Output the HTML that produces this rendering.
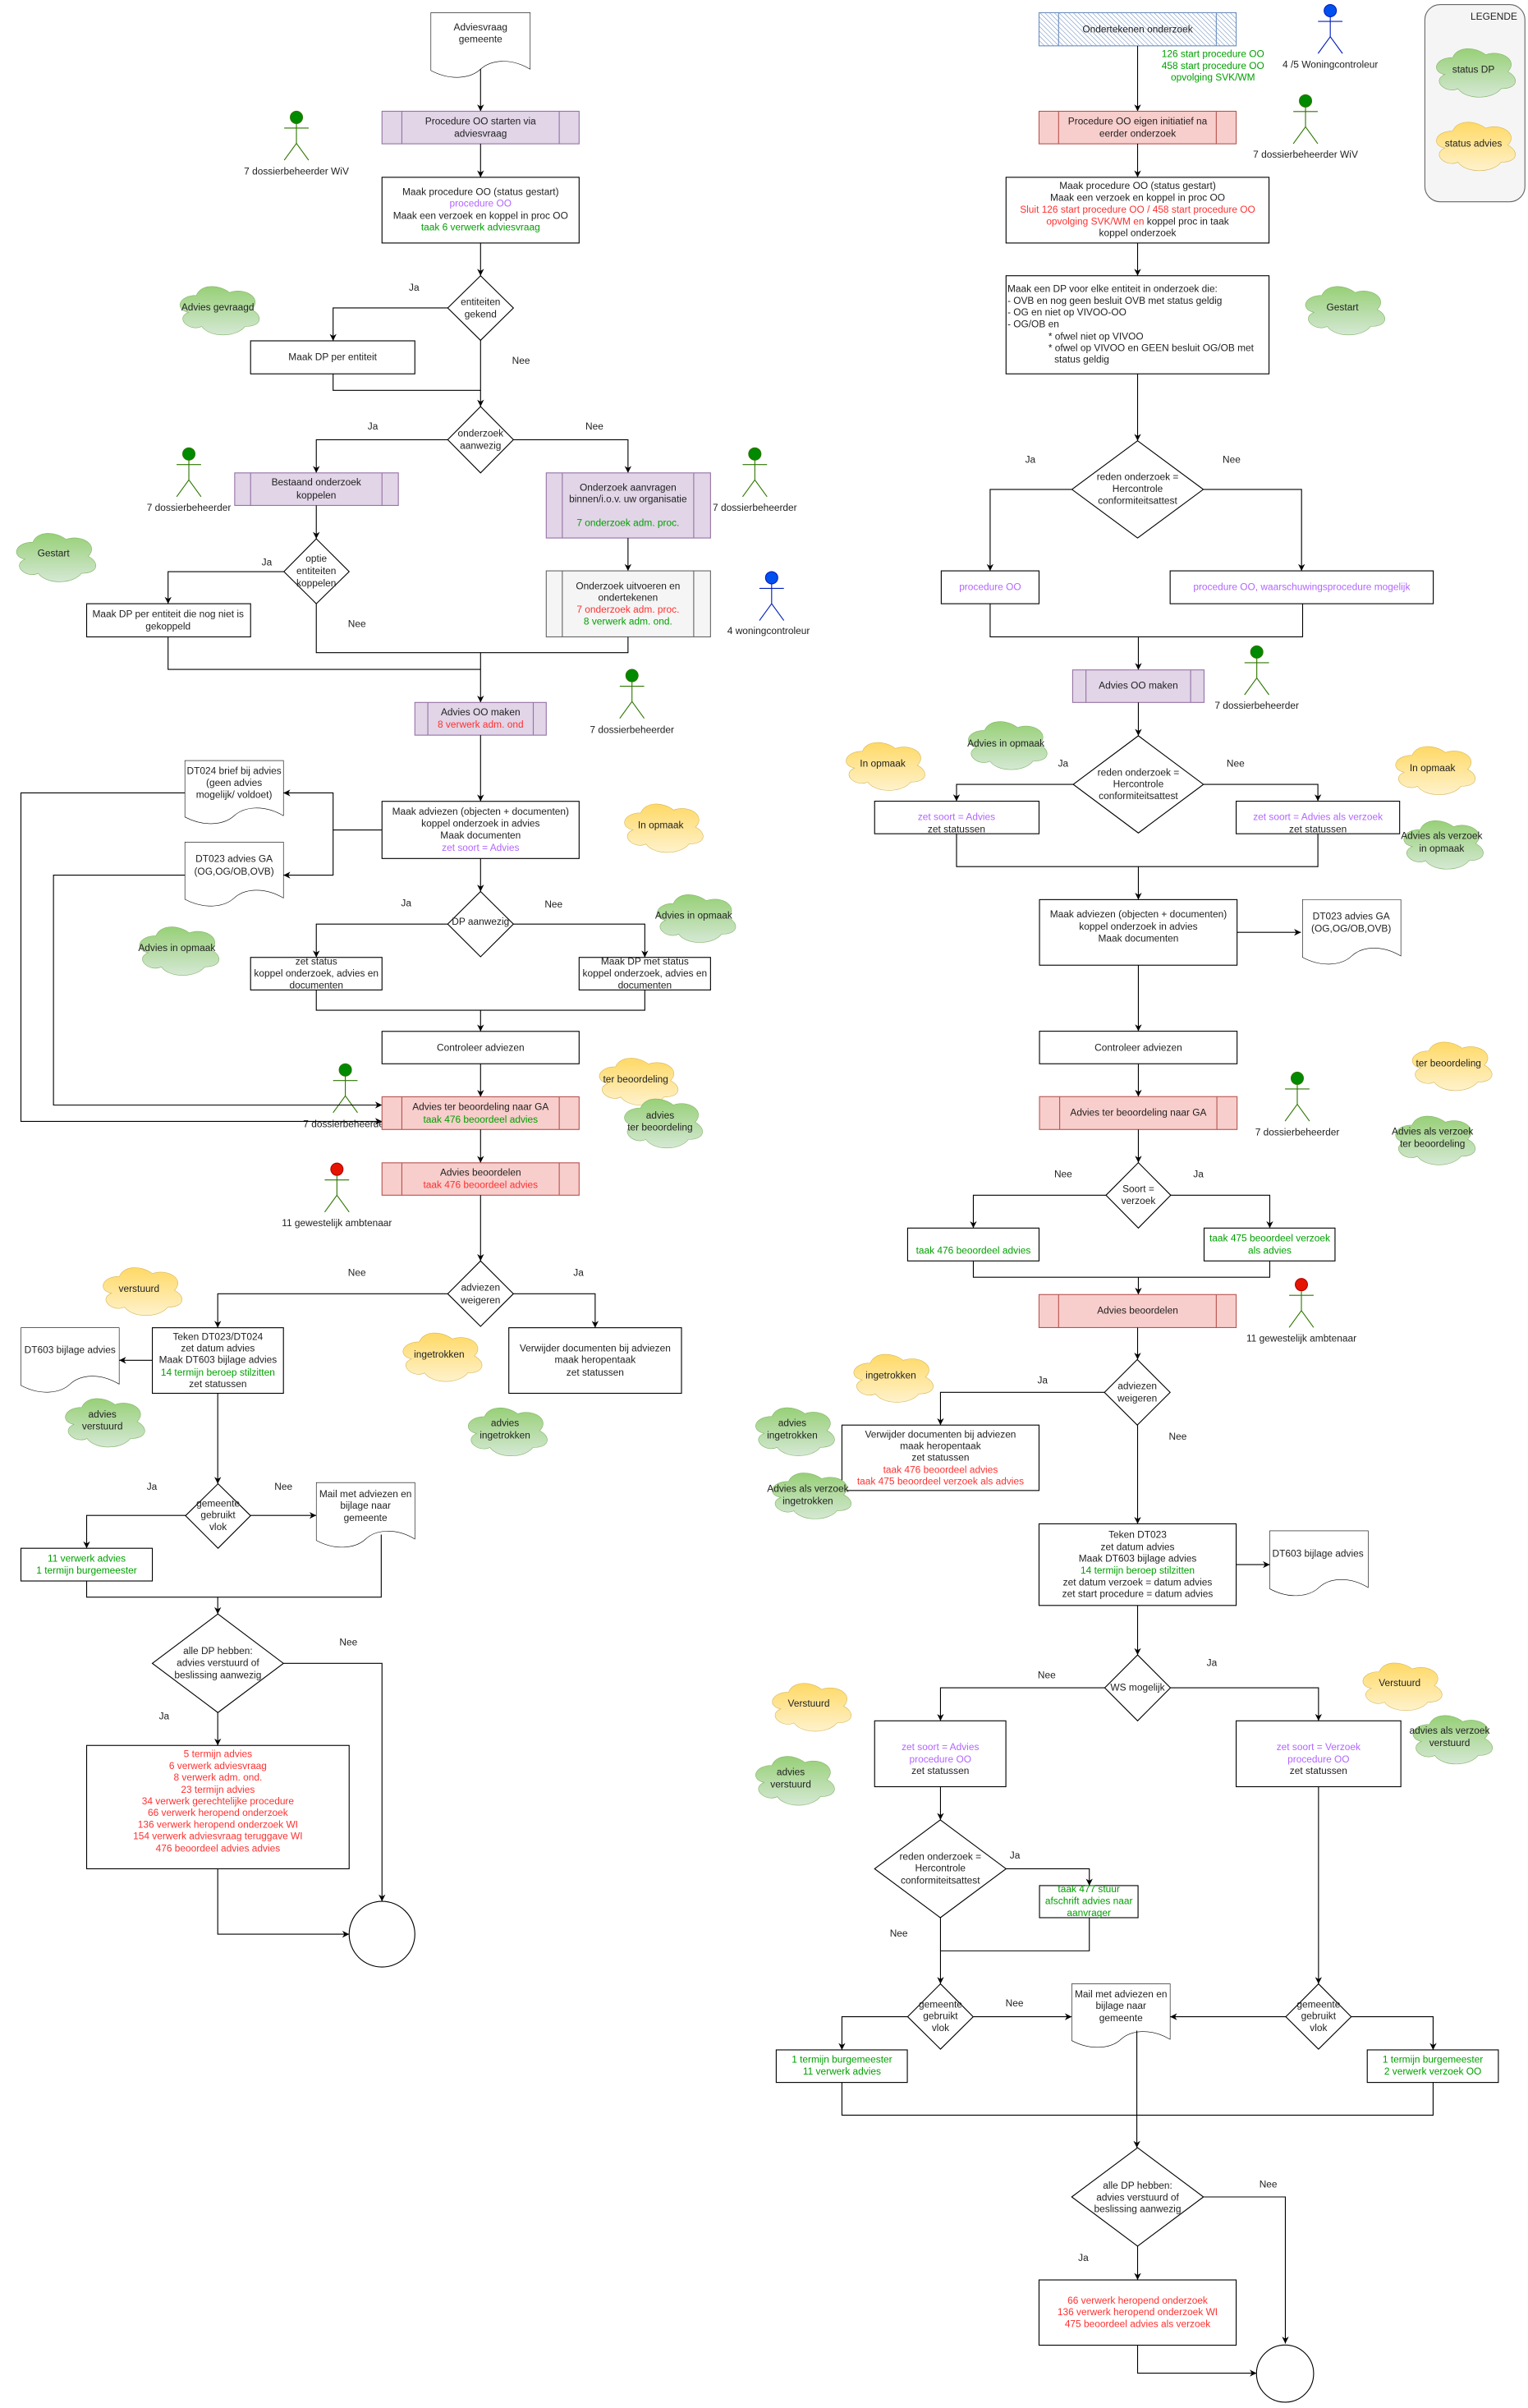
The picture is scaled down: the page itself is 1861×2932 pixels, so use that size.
<!DOCTYPE html>
<html><head><meta charset="utf-8"><style>
html,body{margin:0;padding:0;background:#fff}
svg{display:block}
.t{font-family:"Liberation Sans",Arial,sans-serif;font-size:6.4px;text-anchor:middle;dominant-baseline:central;fill:#222}
.l{text-anchor:start}
.g{fill:#00a000}.r{fill:#ff3030}.p{fill:#b266ff}
.b{fill:#fff;stroke:#000;stroke-width:0.6}
.pu{fill:#e1d5e7;stroke:#9673a6;stroke-width:0.6}
.rd{fill:#f8cecc;stroke:#b85450;stroke-width:0.6}
.c{fill:none;stroke:#000;stroke-width:0.6}
.a{fill:none;stroke:#000;stroke-width:0.6;marker-end:url(#ar)}
</style></head><body>
<svg width="1861" height="2932" viewBox="0 0 1000 1575.5" xmlns="http://www.w3.org/2000/svg">
<defs>
<marker id="ar" viewBox="0 0 10 10" refX="10" refY="5" markerWidth="4.5" markerHeight="4.5" markerUnits="userSpaceOnUse" orient="auto"><path d="M0,0 L10,5 L0,10 L3,5 Z" fill="#000"/></marker>
<linearGradient id="gg" x1="0" y1="0" x2="0" y2="1"><stop offset="0" stop-color="#97d077"/><stop offset="1" stop-color="#d5e8d4"/></linearGradient>
<linearGradient id="gy" x1="0" y1="0" x2="0" y2="1"><stop offset="0" stop-color="#ffd966"/><stop offset="1" stop-color="#fff2cc"/></linearGradient>
<pattern id="hat" width="2.2" height="2.2" patternUnits="userSpaceOnUse" patternTransform="rotate(-45)"><rect width="2.2" height="2.2" fill="#fff"/><line x1="0" y1="0" x2="0" y2="2.2" stroke="#6c8ebf" stroke-width="0.6"/></pattern>
<path id="cl" vector-effect="non-scaling-stroke" stroke-width="0.6" d="M0.25,0.25 C0.05,0.25 0,0.5 0.16,0.55 C0,0.66 0.18,0.9 0.31,0.8 C0.4,1 0.7,1 0.8,0.8 C1,0.8 1,0.6 0.875,0.5 C1,0.3 0.8,0.1 0.625,0.2 C0.5,0.05 0.3,0.05 0.25,0.25 Z"/>
<path id="doc" vector-effect="non-scaling-stroke" stroke-width="0.6" fill="#fff" stroke="#000" d="M0,0 H1 V0.86 C0.8,0.68 0.6,0.72 0.5,0.86 C0.4,1 0.2,1.04 0,0.88 Z"/>
<g id="actG" stroke="#2d7600" stroke-width="0.6" fill="none"><circle cx="0" cy="0" r="4" fill="#008a00"/><path d="M0,4 V17 M-8,7 H8 M0,17 L-8,28 M0,17 L8,28"/></g>
<g id="actB" stroke="#001dbc" stroke-width="0.6" fill="none"><circle cx="0" cy="0" r="4" fill="#0050ef"/><path d="M0,4 V17 M-8,7 H8 M0,17 L-8,28 M0,17 L8,28"/></g>
<g id="actR" stroke="#2d7600" stroke-width="0.6" fill="none"><circle cx="0" cy="0" r="4" fill="#e51400" stroke="#b20000"/><path d="M0,4 V17 M-8,7 H8 M0,17 L-8,28 M0,17 L8,28"/></g>
</defs>

<!-- ================= LEFT ================= -->
<use href="#doc" transform="translate(282,8.3) scale(65,43)"/>
<text class="t" x="314.5" y="17.6">Adviesvraag</text><text class="t" x="314.5" y="25.6">gemeente</text>
<path class="a" d="M314.5,45 V72.8"/>
<rect class="pu" x="250" y="72.8" width="129" height="21.3"/><path class="c" style="stroke:#9673a6" d="M263,72.8 V94.1 M366,72.8 V94.1"/>
<text class="t" x="314.5" y="79.3">Procedure OO starten via</text><text class="t" x="314.5" y="87.3">adviesvraag</text>
<use href="#actG" x="194" y="76.8"/><text class="t" x="194" y="112">7 dossierbeheerder WiV</text>
<path class="a" d="M314.5,94.1 V116"/>
<rect class="b" x="250" y="116" width="129" height="43"/>
<text class="t" x="314.5" y="125.5">Maak procedure OO (status gestart)</text>
<text class="t p" x="314.5" y="133">procedure OO</text>
<text class="t" x="314.5" y="141">Maak een verzoek en koppel in proc OO</text>
<text class="t g" x="314.5" y="148.7">taak 6 verwerk adviesvraag</text>
<path class="a" d="M314.5,159 V180.4"/>
<polygon class="b" points="293,201.5 314.5,180.4 336,201.5 314.5,222.7"/>
<text class="t" x="314.5" y="197.5">entiteiten</text><text class="t" x="314.5" y="205.5">gekend</text>
<text class="t" x="271" y="188">Ja</text>
<use href="#cl" transform="translate(114,184) scale(58,37)" fill="url(#gg)" stroke="#82b366"/>
<text class="t" x="142.5" y="201">Advies gevraagd</text>
<path class="a" d="M293,201.5 H218 V223"/>
<rect class="b" x="164" y="223" width="107.5" height="21.6"/><text class="t" x="217.7" y="233.6">Maak DP per entiteit</text>
<text class="t" x="341" y="236">Nee</text>
<path class="c" d="M218,244.6 V255.4 H314.5"/>
<path class="a" d="M314.5,222.7 V266"/>
<polygon class="b" points="293,287.7 314.5,266 336,287.7 314.5,309.4"/>
<text class="t" x="314.5" y="283.5">onderzoek</text><text class="t" x="314.5" y="291.5">aanwezig</text>
<text class="t" x="244" y="279">Ja</text><text class="t" x="389" y="279">Nee</text>
<path class="a" d="M293,287.7 H207 V309.4"/><path class="a" d="M336,287.7 H411 V309.4"/>
<rect class="pu" x="153.6" y="309.4" width="107.1" height="21.3"/><path class="c" style="stroke:#9673a6" d="M164,309.4 V330.7 M250,309.4 V330.7"/>
<text class="t" x="207" y="315.5">Bestaand onderzoek</text><text class="t" x="207" y="324">koppelen</text>
<use href="#actG" x="123.6" y="297"/><text class="t" x="123.6" y="332">7 dossierbeheerder</text>
<rect class="pu" x="357.5" y="309.4" width="107.5" height="42.6"/><path class="c" style="stroke:#9673a6" d="M368,309.4 V352 M454,309.4 V352"/>
<text class="t" x="411" y="319">Onderzoek aanvragen</text><text class="t" x="411" y="326.5">binnen/i.o.v. uw organisatie</text>
<text class="t g" x="411" y="342">7 onderzoek adm. proc.</text>
<use href="#actG" x="494" y="297"/><text class="t" x="494" y="332">7 dossierbeheerder</text>
<path class="a" d="M207,330.7 V352.5"/>
<polygon class="b" points="185.8,374 207,352.5 228.5,374 207,395"/>
<text class="t" x="207" y="365.5">optie</text><text class="t" x="207" y="373.5">entiteiten</text><text class="t" x="207" y="381.5">koppelen</text>
<use href="#cl" transform="translate(7,345.5) scale(58,37)" fill="url(#gg)" stroke="#82b366"/>
<text class="t" x="35" y="362">Gestart</text>
<text class="t" x="174.6" y="367.7">Ja</text>
<path class="a" d="M185.8,374 H110 V395"/>
<rect class="b" x="56.7" y="395" width="107.3" height="21.7"/>
<text class="t" x="110" y="401.6">Maak DP per entiteit die nog niet is</text><text class="t" x="110" y="409.6">gekoppeld</text>
<text class="t" x="233.6" y="408">Nee</text>
<path class="a" d="M411,352 V373.5"/>
<rect x="357.5" y="373.5" width="107.5" height="43.2" fill="#f5f5f5" stroke="#666" stroke-width="0.6"/><path class="c" style="stroke:#666" d="M368,373.5 V416.7 M454,373.5 V416.7"/>
<text class="t" x="411" y="383.4">Onderzoek uitvoeren en</text><text class="t" x="411" y="390.8">ondertekenen</text>
<text class="t r" x="411" y="398.8">7 onderzoek adm. proc.</text><text class="t g" x="411" y="406.5">8 verwerk adm. ond.</text>
<use href="#actB" x="505" y="378"/><text class="t" x="503" y="412.7">4 woningcontroleur</text>
<path class="c" d="M207,395 V427 H411 V416.7"/>
<path class="c" d="M110,416.7 V438 H314.5"/>
<path class="a" d="M314.5,427 V459.6"/>
<rect class="pu" x="271.5" y="459.6" width="86" height="21.4"/><path class="c" style="stroke:#9673a6" d="M280,459.6 V481 M349,459.6 V481"/>
<text class="t" x="314.5" y="466">Advies OO maken</text><text class="t r" x="314.5" y="474">8 verwerk adm. ond</text>
<use href="#actG" x="413.6" y="442"/><text class="t" x="413.6" y="477.5">7 dossierbeheerder</text>
<path class="a" d="M314.5,481 V524.3"/>
<rect class="b" x="250" y="524.3" width="129" height="37.4"/>
<text class="t" x="314.5" y="531">Maak adviezen (objecten + documenten)</text>
<text class="t" x="314.5" y="538.7">koppel onderzoek in advies</text>
<text class="t" x="314.5" y="546.6">Maak documenten</text>
<text class="t p" x="314.5" y="554.5">zet soort = Advies</text>
<use href="#doc" transform="translate(121,497.6) scale(64.5,42)"/>
<text class="t" x="153.2" y="504.4">DT024 brief bij advies</text><text class="t" x="153.2" y="512">(geen advies</text><text class="t" x="153.2" y="520">mogelijk/ voldoet)</text>
<use href="#doc" transform="translate(121,551) scale(64.5,42.5)"/>
<text class="t" x="153.2" y="561.7">DT023  advies GA</text><text class="t" x="153.2" y="570">(OG,OG/OB,OVB)</text>
<path class="a" d="M250,543 H218 V518.8 H185.5"/><path class="a" d="M218,543 V572.6 H185.5"/>
<use href="#cl" transform="translate(405,522.6) scale(57.4,37)" fill="url(#gy)" stroke="#d6b656"/>
<text class="t" x="432.4" y="539.7">In opmaak</text>
<path class="a" d="M314.5,561.7 V583.3"/>
<polygon class="b" points="293,604.6 314.5,583.3 336,604.6 314.5,626"/>
<text class="t" x="314.5" y="603">DP aanwezig</text>
<text class="t" x="265.8" y="590.8">Ja</text><text class="t" x="362.3" y="591.5">Nee</text>
<use href="#cl" transform="translate(426.4,582) scale(57.3,36.5)" fill="url(#gg)" stroke="#82b366"/>
<text class="t" x="454" y="599">Advies in opmaak</text>
<use href="#cl" transform="translate(87.6,603) scale(58,37)" fill="url(#gg)" stroke="#82b366"/>
<text class="t" x="115.7" y="620">Advies in opmaak</text>
<path class="a" d="M293,604.6 H207 V626.4"/><path class="a" d="M336,604.6 H422 V626.4"/>
<rect class="b" x="164" y="626.4" width="86" height="21.3"/>
<text class="t" x="207" y="629">zet status</text><text class="t" x="207" y="636.7">koppel onderzoek, advies en</text><text class="t" x="207" y="644.6">documenten</text>
<rect class="b" x="379" y="626.4" width="86" height="21.3"/>
<text class="t" x="422" y="629">Maak DP met  status</text><text class="t" x="422" y="636.7">koppel onderzoek, advies en</text><text class="t" x="422" y="644.6">documenten</text>
<path class="c" d="M207,647.7 V661 H422 V647.7"/>
<path class="a" d="M314.5,661 V674.8"/>
<rect class="b" x="250" y="674.8" width="129" height="21.2"/><text class="t" x="314.5" y="685.4">Controleer adviezen</text>
<path class="a" d="M314.5,696 V717.6"/>
<use href="#actG" x="226" y="700"/><text class="t" x="226" y="735.4">7 dossierbeheerder</text>
<path class="a" d="M121,518.8 H13.7 V733.7 H250"/><path class="a" d="M121,572.6 H35 V723 H250"/>
<rect class="rd" x="250" y="717.6" width="129" height="21.4"/><path class="c" style="stroke:#b85450" d="M263,717.6 V739 M366,717.6 V739"/>
<text class="t" x="314.5" y="724">Advies ter beoordeling naar GA</text><text class="t g" x="314.5" y="732.3">taak 476 beoordeel advies</text>
<use href="#cl" transform="translate(388.5,689) scale(57.5,36)" fill="url(#gy)" stroke="#d6b656"/>
<text class="t" x="416" y="706">ter beoordeling</text>
<use href="#cl" transform="translate(405,715.5) scale(57,37.5)" fill="url(#gg)" stroke="#82b366"/>
<text class="t" x="432" y="729.6">advies</text><text class="t" x="432" y="737.5">ter beoordeling</text>
<path class="a" d="M314.5,739 V760.8"/>
<rect class="rd" x="250" y="760.8" width="129" height="21.2"/><path class="c" style="stroke:#b85450" d="M263,760.8 V782 M366,760.8 V782"/>
<text class="t" x="314.5" y="767">Advies beoordelen</text><text class="t r" x="314.5" y="775">taak 476 beoordeel advies</text>
<use href="#actR" x="220.5" y="765"/><text class="t" x="220.5" y="800">11 gewestelijk ambtenaar</text>
<path class="a" d="M314.5,782 V825"/>
<polygon class="b" points="293,846.5 314.5,825 336,846.5 314.5,867.8"/>
<text class="t" x="314.5" y="842.3">adviezen</text><text class="t" x="314.5" y="850.6">weigeren</text>
<text class="t" x="233.6" y="832.7">Nee</text><text class="t" x="378.6" y="832.7">Ja</text>
<path class="a" d="M293,846.5 H142.5 V868.7"/><path class="a" d="M336,846.5 H389.5 V868.7"/>
<use href="#cl" transform="translate(63.7,826) scale(57.7,36.5)" fill="url(#gy)" stroke="#d6b656"/>
<text class="t" x="91" y="843">verstuurd</text>
<rect class="b" x="99.7" y="868.7" width="85.8" height="42.9"/>
<text class="t" x="142.6" y="874.5">Teken DT023/DT024</text><text class="t" x="142.6" y="882">zet datum advies</text>
<text class="t" x="142.6" y="889.6">Maak DT603 bijlage advies</text><text class="t g" x="142.6" y="897.8">14 termijn beroep stilzitten</text>
<text class="t" x="142.6" y="905.4">zet statussen</text>
<use href="#doc" transform="translate(13.7,868.7) scale(64.3,42.9)"/>
<text class="t" x="45.8" y="883">DT603 bijlage advies</text>
<path class="a" d="M99.7,890 H78"/>
<use href="#cl" transform="translate(39,911.6) scale(58,37)" fill="url(#gg)" stroke="#82b366"/>
<text class="t" x="67" y="925.3">advies</text><text class="t" x="67" y="933">verstuurd</text>
<use href="#cl" transform="translate(260,868.7) scale(57.7,37)" fill="url(#gy)" stroke="#d6b656"/>
<text class="t" x="287.4" y="886">ingetrokken</text>
<rect class="b" x="333" y="868.7" width="113" height="42.9"/>
<text class="t" x="389.5" y="882">Verwijder documenten bij adviezen</text><text class="t" x="389.5" y="889.6">maak heropentaak</text><text class="t" x="389.5" y="897.8">zet statussen</text>
<use href="#cl" transform="translate(302.7,917.7) scale(57.7,36.7)" fill="url(#gg)" stroke="#82b366"/>
<text class="t" x="330.5" y="931">advies</text><text class="t" x="330.5" y="939">ingetrokken</text>
<path class="a" d="M142.5,911.6 V970.8"/>
<polygon class="b" points="121.4,991.7 142.7,970.8 164,991.7 142.7,1013"/>
<text class="t" x="142.7" y="983.5">gemeente</text><text class="t" x="142.7" y="991.2">gebruikt</text><text class="t" x="142.7" y="999">vlok</text>
<text class="t" x="99.4" y="972.6">Ja</text><text class="t" x="185.5" y="972.6">Nee</text>
<path class="a" d="M121.4,991.5 H56.7 V1013"/><path class="a" d="M164,991.5 H207"/>
<use href="#doc" transform="translate(207,970) scale(64.5,43)"/>
<text class="t" x="239.2" y="977.4">Mail met adviezen en</text><text class="t" x="239.2" y="985">bijlage naar</text><text class="t" x="239.2" y="993">gemeente</text>
<rect class="b" x="13.7" y="1013" width="86" height="21.4"/>
<text class="t g" x="56.7" y="1019.5">11 verwerk advies</text><text class="t g" x="56.7" y="1027.5">1 termijn burgemeester</text>
<path class="c" d="M56.7,1034.4 V1045 H249.5 V1004"/>
<path class="a" d="M142.5,1045 V1056"/>
<polygon class="b" points="99.7,1088.3 142.6,1056 185.5,1088.3 142.6,1120.5"/>
<text class="t" x="142.6" y="1080">alle DP hebben:</text><text class="t" x="142.6" y="1087.8">advies verstuurd of</text><text class="t" x="142.6" y="1095.8">beslissing aanwezig</text>
<text class="t" x="228" y="1074.4">Nee</text>
<path class="a" d="M185.5,1088.3 H250 V1244"/>
<text class="t" x="107.4" y="1122.8">Ja</text>
<path class="a" d="M142.5,1120.5 V1142"/>
<rect class="b" x="56.7" y="1142" width="171.8" height="80.7"/>
<text class="t r" x="142.6" y="1147.6">5 termijn advies</text>
<text class="t r" x="142.6" y="1155.2">6 verwerk adviesvraag</text>
<text class="t r" x="142.6" y="1162.8">8 verwerk adm. ond.</text>
<text class="t r" x="142.6" y="1170.8">23 termijn advies</text>
<text class="t r" x="142.6" y="1178.5">34 verwerk gerechtelijke procedure</text>
<text class="t r" x="142.6" y="1186">66 verwerk heropend onderzoek</text>
<text class="t r" x="142.6" y="1193.7">136 verwerk heropend onderzoek WI</text>
<text class="t r" x="142.6" y="1201.3">154 verwerk adviesvraag teruggave WI</text>
<text class="t r" x="142.6" y="1209.3">476 beoordeel advies advies</text>
<circle class="b" cx="250" cy="1265.5" r="21.5"/>
<path class="a" d="M142.5,1222.7 V1265.5 H228.5"/>

<!-- ================= RIGHT ================= -->
<rect x="680" y="8.3" width="129" height="21.7" fill="url(#hat)" stroke="#6c8ebf" stroke-width="0.6"/><path class="c" style="stroke:#6c8ebf" d="M692.8,8.3 V30 M796,8.3 V30"/>
<text class="t" x="744.5" y="19">Ondertekenen onderzoek</text>
<path class="a" d="M744.5,30 V72.8"/>
<text class="t g" x="793.8" y="35.2">126 start procedure OO</text><text class="t g" x="793.8" y="42.9">458 start procedure OO</text><text class="t g" x="793.8" y="50.6">opvolging SVK/WM</text>
<use href="#actB" x="870.6" y="7"/><text class="t" x="870.6" y="42.3">4 /5 Woningcontroleur</text>
<use href="#actG" x="854.4" y="66"/><text class="t" x="854.4" y="101">7 dossierbeheerder WiV</text>
<rect x="932.5" y="3" width="65.5" height="129" rx="10" fill="#f5f5f5" stroke="#666" stroke-width="0.6"/>
<text class="t" x="977.7" y="10.8">LEGENDE</text>
<use href="#cl" transform="translate(936.3,28.4) scale(57.7,37)" fill="url(#gg)" stroke="#82b366"/>
<text class="t" x="964.3" y="45.3">status DP</text>
<use href="#cl" transform="translate(936.3,76.5) scale(57.7,37)" fill="url(#gy)" stroke="#d6b656"/>
<text class="t" x="964.3" y="93.8">status advies</text>
<rect class="rd" x="680" y="72.8" width="129" height="21.3"/><path class="c" style="stroke:#b85450" d="M692.8,72.8 V94.1 M796,72.8 V94.1"/>
<text class="t" x="744.5" y="79.3">Procedure OO eigen initiatief na</text><text class="t" x="744.5" y="87.3">eerder onderzoek</text>
<path class="a" d="M744.5,94.1 V116"/>
<rect class="b" x="658.4" y="116" width="172.1" height="43"/>
<text class="t" x="744.5" y="121.5">Maak procedure OO (status gestart)</text>
<text class="t" x="744.5" y="129.2">Maak een verzoek en koppel in proc OO</text>
<text class="t r" x="744.5" y="137">Sluit 126 start procedure OO / 458 start procedure OO</text>
<text class="t" x="744.5" y="144.7"><tspan class="r">opvolging SVK/WM  en</tspan> koppel proc in taak</text>
<text class="t" x="744.5" y="152.4">koppel onderzoek</text>
<path class="a" d="M744.5,159 V180.4"/>
<rect class="b" x="658.4" y="180.4" width="172.1" height="64.2"/>
<text class="t l" x="659.3" y="188.8">Maak een DP voor elke entiteit in onderzoek die:</text>
<text class="t l" x="659.3" y="196.8">- OVB en nog geen besluit OVB met status geldig</text>
<text class="t l" x="659.3" y="204.2">- OG en niet op VIVOO-OO</text>
<text class="t l" x="659.3" y="212">- OG/OB en</text>
<text class="t l" x="686.1" y="220">* ofwel niet op VIVOO</text>
<text class="t l" x="686.1" y="227.6">* ofwel op VIVOO en GEEN besluit OG/OB met</text>
<text class="t l" x="690" y="235">status geldig</text>
<use href="#cl" transform="translate(850.6,184) scale(58,37)" fill="url(#gg)" stroke="#82b366"/>
<text class="t" x="878.6" y="201">Gestart</text>
<path class="a" d="M744.5,244.6 V288.4"/>
<polygon class="b" points="701.5,320.2 744.5,288.4 787.5,320.2 744.5,352"/>
<text class="t" x="744.5" y="311.8">reden onderzoek =</text><text class="t" x="744.5" y="319.6">Hercontrole</text><text class="t" x="744.5" y="327.6">conformiteitsattest</text>
<text class="t" x="674.3" y="300.7">Ja</text><text class="t" x="806" y="300.7">Nee</text>
<path class="a" d="M701.5,320.2 H648 V373.5"/><path class="a" d="M787.5,320.2 H851.8 V373.5"/>
<rect class="b" x="616" y="373.5" width="64" height="21.5"/><text class="t p" x="648" y="384">procedure OO</text>
<rect class="b" x="765.8" y="373.5" width="172.2" height="21.5"/><text class="t p" x="851.9" y="384">procedure OO, waarschuwingsprocedure mogelijk</text>
<path class="c" d="M648,395 V416.7 H852.5 V395"/>
<path class="a" d="M745,416.7 V438.3"/>
<rect class="pu" x="702" y="438.3" width="86" height="21.3"/><path class="c" style="stroke:#9673a6" d="M710.7,438.3 V459.6 M779.2,438.3 V459.6"/>
<text class="t" x="745" y="448.5">Advies OO maken</text>
<use href="#actG" x="822.5" y="426.6"/><text class="t" x="822.5" y="461.5">7 dossierbeheerder</text>
<path class="a" d="M745,459.6 V481.4"/>
<polygon class="b" points="702.4,513.2 745,481.4 787.6,513.2 745,545"/>
<text class="t" x="745" y="505.4">reden onderzoek =</text><text class="t" x="745" y="513">Hercontrole</text><text class="t" x="745" y="520.8">conformiteitsattest</text>
<text class="t" x="695.8" y="499.5">Ja</text><text class="t" x="808.6" y="499.5">Nee</text>
<use href="#cl" transform="translate(550,482.4) scale(57.6,36.6)" fill="url(#gy)" stroke="#d6b656"/>
<text class="t" x="577.7" y="499.5">In opmaak</text>
<use href="#cl" transform="translate(630,468.7) scale(57.5,36.7)" fill="url(#gg)" stroke="#82b366"/>
<text class="t" x="658.3" y="486.2">Advies in opmaak</text>
<use href="#cl" transform="translate(909.6,485) scale(58.2,36.8)" fill="url(#gy)" stroke="#d6b656"/>
<text class="t" x="937.5" y="502.3">In opmaak</text>
<path class="a" d="M702.4,513.2 H626 V524.2"/><path class="a" d="M787.6,513.2 H862.5 V524.2"/>
<rect class="b" x="572.4" y="524.2" width="107.6" height="21.3"/>
<text class="t p" x="626" y="534.5">zet soort = Advies</text><text class="t" x="626" y="542.4">zet statussen</text>
<rect class="b" x="809" y="524.2" width="107" height="21.3"/>
<text class="t p" x="862.5" y="534.5">zet soort = Advies als verzoek</text><text class="t" x="862.5" y="542.4">zet statussen</text>
<use href="#cl" transform="translate(915,533.5) scale(58,37)" fill="url(#gg)" stroke="#82b366"/>
<text class="t" x="943.5" y="546.8">Advies als verzoek</text><text class="t" x="943.5" y="555">in opmaak</text>
<path class="c" d="M626,545.5 V567 H862.5 V545.5"/>
<path class="a" d="M745,567 V588.6"/>
<rect class="b" x="680.3" y="588.6" width="129.3" height="42.9"/>
<text class="t" x="745" y="598.2">Maak adviezen (objecten + documenten)</text><text class="t" x="745" y="606.1">koppel onderzoek in advies</text><text class="t" x="745" y="614">Maak documenten</text>
<path class="a" d="M809.6,610 H851.4"/>
<use href="#doc" transform="translate(852.4,588.6) scale(64.4,42.9)"/>
<text class="t" x="884.3" y="599.3">DT023  advies GA</text><text class="t" x="884.3" y="607.5">(OG,OG/OB,OVB)</text>
<path class="a" d="M745,631.5 V674.7"/>
<rect class="b" x="680.3" y="674.7" width="129.3" height="21.3"/><text class="t" x="745" y="685.3">Controleer adviezen</text>
<path class="a" d="M745,696 V717.5"/>
<rect class="rd" x="680.3" y="717.5" width="129.3" height="21.5"/><path class="c" style="stroke:#b85450" d="M693.5,717.5 V739 M796.4,717.5 V739"/>
<text class="t" x="745" y="727.8">Advies ter beoordeling naar GA</text>
<use href="#actG" x="849" y="705.5"/><text class="t" x="849" y="740.8">7 dossierbeheerder</text>
<use href="#cl" transform="translate(920.5,678.4) scale(58.2,37)" fill="url(#gy)" stroke="#d6b656"/>
<text class="t" x="948" y="695.6">ter beoordeling</text>
<use href="#cl" transform="translate(909.6,726.8) scale(58.2,37.2)" fill="url(#gg)" stroke="#82b366"/>
<text class="t" x="937.5" y="740.1">Advies als verzoek</text><text class="t" x="937.5" y="748.3">ter beoordeling</text>
<path class="a" d="M745,739 V760.7"/>
<polygon class="b" points="723.8,782 745,760.7 766.2,782 745,803.5"/>
<text class="t" x="745" y="777.8">Soort =</text><text class="t" x="745" y="785.7">verzoek</text>
<text class="t" x="695.8" y="768.2">Nee</text><text class="t" x="784.3" y="768.2">Ja</text>
<path class="a" d="M723.8,782 H637 V803.5"/><path class="a" d="M766.2,782 H831 V803.5"/>
<rect class="b" x="594" y="803.5" width="86" height="21.5"/><text class="t g" x="637" y="818.2">taak 476 beoordeel advies</text>
<rect class="b" x="788" y="803.5" width="85.7" height="21.5"/><text class="t g" x="831" y="810">taak 475 beoordeel verzoek</text><text class="t g" x="831" y="818.2">als advies</text>
<path class="c" d="M637,825 V835.7 H831 V825"/>
<path class="a" d="M745,835.7 V847"/>
<rect class="rd" x="680" y="847" width="129" height="21.6"/><path class="c" style="stroke:#b85450" d="M692.8,847 V868.6 M796,847 V868.6"/>
<text class="t" x="744.5" y="857.3">Advies beoordelen</text>
<use href="#actR" x="851.7" y="840.5"/><text class="t" x="851.7" y="875.5">11 gewestelijk ambtenaar</text>
<path class="a" d="M744.5,868.6 V889.5"/>
<polygon class="b" points="722.8,911 744.3,889.5 765.8,911 744.3,932.4"/>
<text class="t" x="744.3" y="906.7">adviezen</text><text class="t" x="744.3" y="914.9">weigeren</text>
<text class="t" x="682.3" y="902.9">Ja</text><text class="t" x="770.8" y="939.9">Nee</text>
<path class="a" d="M722.8,911 H615.5 V932.4"/>
<use href="#cl" transform="translate(555,882.7) scale(58,36.6)" fill="url(#gy)" stroke="#d6b656"/>
<text class="t" x="583" y="899.8">ingetrokken</text>
<rect class="b" x="551" y="932.4" width="129" height="42.8"/>
<text class="t" x="615.5" y="938.5">Verwijder documenten bij adviezen</text><text class="t" x="615.5" y="946">maak heropentaak</text><text class="t" x="615.5" y="953.6">zet statussen</text>
<text class="t r" x="615.5" y="961.5">taak 476 beoordeel advies</text><text class="t r" x="615.5" y="969">taak 475 beoordeel verzoek als advies</text>
<use href="#cl" transform="translate(490.8,917.6) scale(57.6,36.7)" fill="url(#gg)" stroke="#82b366"/>
<text class="t" x="518.5" y="931">advies</text><text class="t" x="518.5" y="939">ingetrokken</text>
<use href="#cl" transform="translate(501.7,960.5) scale(57.6,35)" fill="url(#gg)" stroke="#82b366"/>
<text class="t" x="528.7" y="973.9">Advies als verzoek</text><text class="t" x="528.7" y="982">ingetrokken</text>
<path class="a" d="M744.5,932.4 V997"/>
<rect class="b" x="680" y="997" width="129" height="53.4"/>
<text class="t" x="744.5" y="1004">Teken DT023</text><text class="t" x="744.5" y="1012">zet datum advies</text><text class="t" x="744.5" y="1019.5">Maak DT603 bijlage advies</text>
<text class="t g" x="744.5" y="1027.5">14 termijn beroep stilzitten</text><text class="t" x="744.5" y="1035.2">zet datum verzoek = datum advies</text><text class="t" x="744.5" y="1042.8">zet start procedure = datum advies</text>
<path class="a" d="M809,1023.7 H831"/>
<use href="#doc" transform="translate(831,1001.6) scale(64.4,43.1)"/>
<text class="t" x="862.5" y="1016.5">DT603 bijlage advies</text>
<path class="a" d="M744.5,1050.4 V1082.8"/>
<polygon class="b" points="723,1104.3 744.5,1082.8 766,1104.3 744.5,1125.9"/>
<text class="t" x="744.5" y="1104">WS mogelijk</text>
<text class="t" x="685" y="1095.8">Nee</text><text class="t" x="793.1" y="1087.8">Ja</text>
<path class="a" d="M723,1104.3 H615.5 V1125.9"/><path class="a" d="M766,1104.3 H862.9 V1125.9"/>
<rect class="b" x="572.4" y="1125.9" width="85.9" height="43.1"/>
<text class="t p" x="615.4" y="1143">zet soort = Advies</text><text class="t p" x="615.4" y="1151">procedure OO</text><text class="t" x="615.4" y="1158.6">zet statussen</text>
<rect class="b" x="809" y="1125.9" width="107.8" height="43.1"/>
<text class="t p" x="862.9" y="1143">zet soort = Verzoek</text><text class="t p" x="862.9" y="1151">procedure OO</text><text class="t" x="862.9" y="1158.6">zet statussen</text>
<use href="#cl" transform="translate(501.7,1098) scale(57.6,36.6)" fill="url(#gy)" stroke="#d6b656"/>
<text class="t" x="529.3" y="1114.4">Verstuurd</text>
<use href="#cl" transform="translate(490.8,1145.7) scale(57.6,37.3)" fill="url(#gg)" stroke="#82b366"/>
<text class="t" x="517.5" y="1159.4">advies</text><text class="t" x="517.5" y="1167.4">verstuurd</text>
<use href="#cl" transform="translate(888.2,1084.7) scale(57.8,36.3)" fill="url(#gy)" stroke="#d6b656"/>
<text class="t" x="916" y="1101">Verstuurd</text>
<use href="#cl" transform="translate(921,1119) scale(58,37)" fill="url(#gg)" stroke="#82b366"/>
<text class="t" x="948.7" y="1132.3">advies als verzoek</text><text class="t" x="948.7" y="1140.3">verstuurd</text>
<path class="a" d="M615.5,1169 V1190.7"/>
<polygon class="b" points="572.4,1222.7 615.4,1190.7 658.4,1222.7 615.4,1254.7"/>
<text class="t" x="615.4" y="1214.7">reden onderzoek =</text><text class="t" x="615.4" y="1222.3">Hercontrole</text><text class="t" x="615.4" y="1230.3">conformiteitsattest</text>
<text class="t" x="664.2" y="1214">Ja</text><text class="t" x="588.2" y="1265">Nee</text>
<path class="a" d="M658.4,1222.7 H712.9 V1233.7"/>
<rect class="b" x="680.3" y="1233.7" width="64.5" height="21"/>
<text class="t g" x="712.6" y="1236">taak 477 stuur</text><text class="t g" x="712.6" y="1243.6">afschrift advies naar</text><text class="t g" x="712.6" y="1251.6">aanvrager</text>
<path class="c" d="M712.9,1254.7 V1276.4 H615.5"/>
<path class="a" d="M615.5,1254.7 V1298"/>
<polygon class="b" points="594,1319.5 615.5,1298 636.9,1319.5 615.5,1340.7"/>
<text class="t" x="615.5" y="1311.5">gemeente</text><text class="t" x="615.5" y="1319">gebruikt</text><text class="t" x="615.5" y="1326.7">vlok</text>
<text class="t" x="663.9" y="1310.7">Nee</text>
<path class="a" d="M636.9,1319.5 H701.4"/>
<use href="#doc" transform="translate(701.4,1298) scale(64.4,42.2)"/>
<text class="t" x="733.6" y="1304.6">Mail met adviezen en</text><text class="t" x="733.6" y="1312.2">bijlage naar</text><text class="t" x="733.6" y="1320.2">gemeente</text>
<path class="a" d="M594,1319.5 H551 V1341.2"/>
<rect class="b" x="508" y="1341.2" width="85.8" height="21.3"/>
<text class="t g" x="551" y="1347.3">1 termijn burgemeester</text><text class="t g" x="551" y="1355.3">11 verwerk advies</text>
<path class="a" d="M862.9,1169 V1298"/>
<polygon class="b" points="841.5,1319.5 862.9,1298 884.3,1319.5 862.9,1340.7"/>
<text class="t" x="862.9" y="1311.5">gemeente</text><text class="t" x="862.9" y="1319">gebruikt</text><text class="t" x="862.9" y="1326.7">vlok</text>
<path class="a" d="M841.5,1319.5 H765.8"/>
<path class="a" d="M884.3,1319.5 H937.9 V1341.2"/>
<rect class="b" x="894.8" y="1341.2" width="85.8" height="21.3"/>
<text class="t g" x="937.7" y="1347.3">1 termijn burgemeester</text><text class="t g" x="937.7" y="1355.3">2 verwerk verzoek OO</text>
<path class="c" d="M551,1362.5 V1383.9 H937.9 V1362.5"/>
<path class="a" d="M744,1328.6 V1405.2"/>
<polygon class="b" points="701.4,1437.4 744.5,1405.2 787.6,1437.4 744.5,1469.6"/>
<text class="t" x="744.5" y="1430">alle DP hebben:</text><text class="t" x="744.5" y="1437.6">advies verstuurd of</text><text class="t" x="744.5" y="1445.2">beslissing aanwezig</text>
<text class="t" x="830" y="1429.2">Nee</text>
<path class="a" d="M787.6,1437.4 H841.2 V1533.3"/>
<text class="t" x="709" y="1477.2">Ja</text>
<path class="a" d="M744.5,1469.6 V1491.7"/>
<rect class="b" x="680" y="1491.7" width="129" height="42.7"/>
<text class="t r" x="744.5" y="1505">66 verwerk heropend onderzoek</text><text class="t r" x="744.5" y="1512.7">136 verwerk heropend onderzoek WI</text><text class="t r" x="744.5" y="1520.3">475 beoordeel advies als verzoek</text>
<circle class="b" cx="841" cy="1553" r="18.7"/>
<path class="a" d="M744.5,1534.4 V1552.7 H822.4"/>
</svg>
</body></html>
